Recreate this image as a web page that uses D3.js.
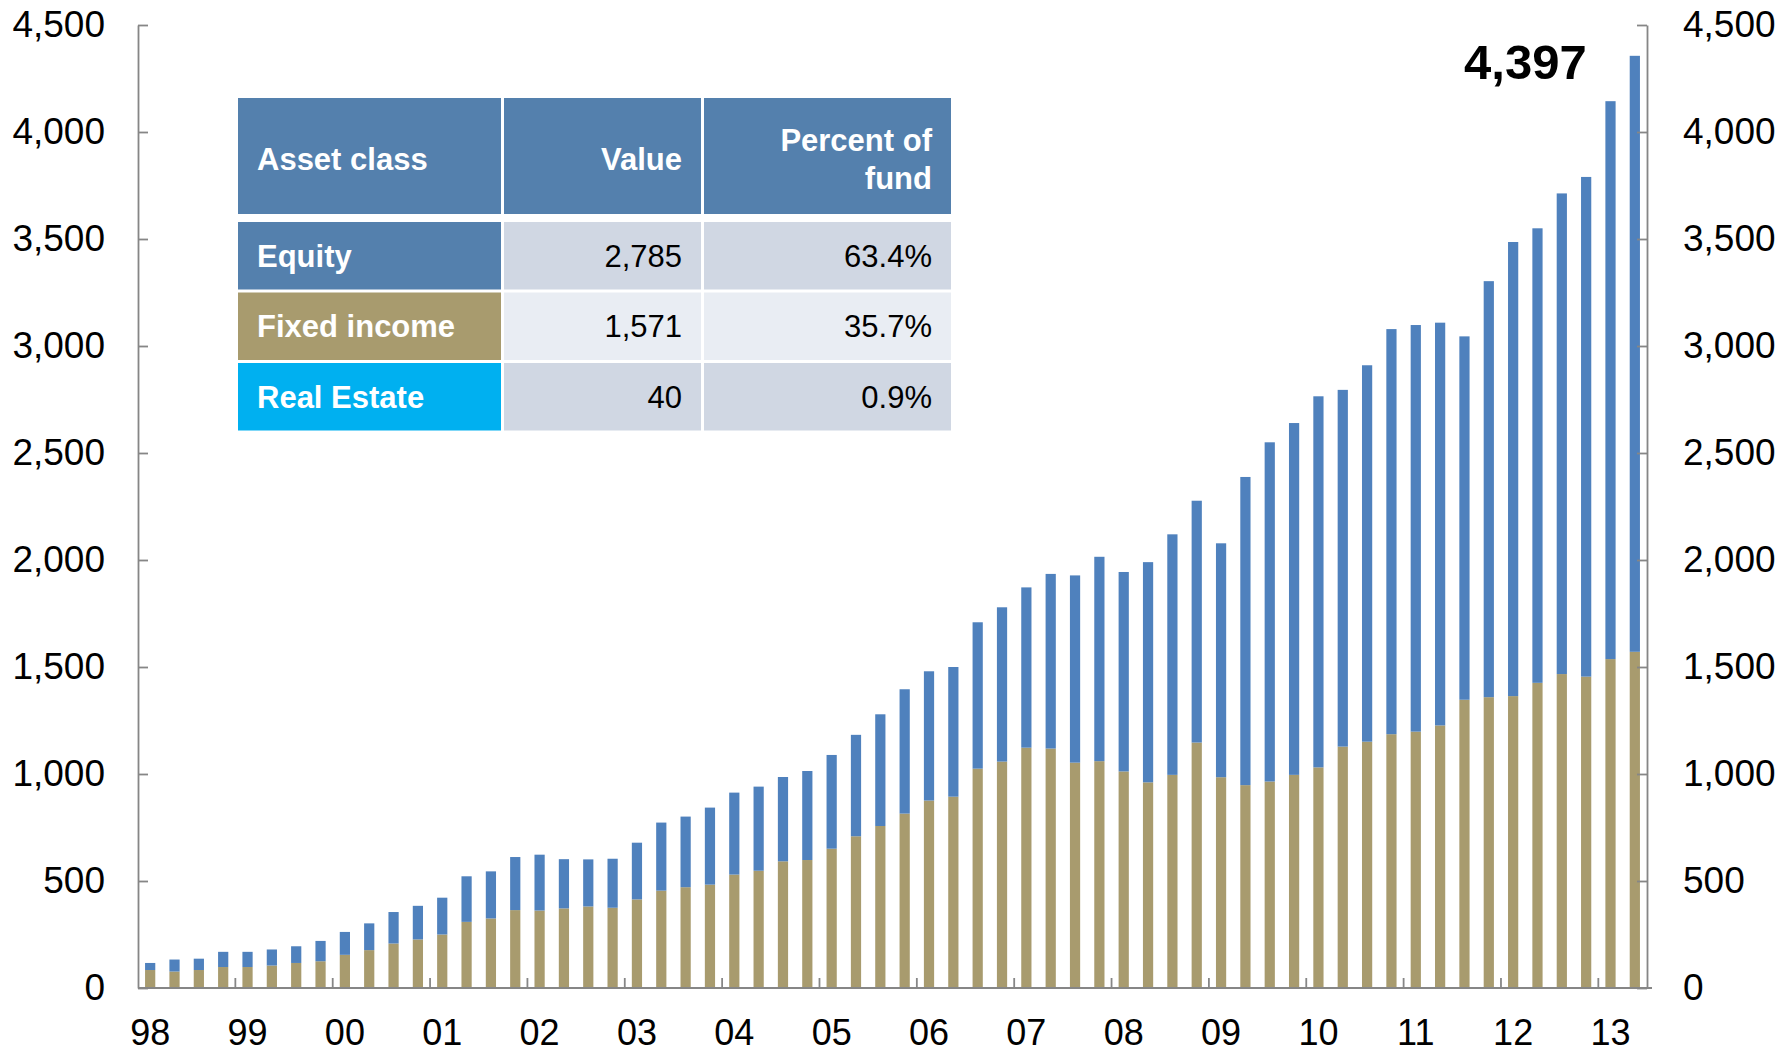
<!DOCTYPE html>
<html>
<head>
<meta charset="utf-8">
<script src="https://cdn.jsdelivr.net/npm/d3@7"></script>
<style>
    body { margin: 0; background: #fff; }
    text { font-family: "Liberation Sans", Arial, sans-serif; }
</style>
</head>
<body>
<svg id="chart"></svg>
<script>
// years shown on the x axis, each has 4 quarterly bars (last year only 2)
const years = ["98", "99", "00", "01", "02", "03", "04", "05", "06", "07", "08", "09", "10", "11", "12", "13"];

// quarterly market value, billions
const fixedIncome = [84, 77, 84, 98, 98, 105, 117, 125, 155, 177, 208, 227, 250, 309, 325, 364,
    362, 372, 381, 375, 414, 455, 471, 483, 530, 548, 592, 598, 651, 709, 757, 815,
    876, 894, 1025, 1058, 1123, 1119, 1053, 1060, 1012, 961, 996, 1147, 985, 948, 965, 996,
    1031, 1128, 1151, 1186, 1198, 1227, 1347, 1359, 1364, 1426, 1467, 1455, 1537, 1571];
const equity = [33, 56, 53, 71, 71, 75, 78, 95, 107, 125, 147, 157, 172, 213, 220, 248,
    261, 230, 220, 229, 265, 318, 330, 360, 383, 393, 394, 416, 438, 474, 522, 581,
    604, 606, 684, 721, 749, 816, 875, 955, 932, 1029, 1124, 1130, 1093, 1440, 1585, 1644,
    1734, 1667, 1759, 1893, 1900, 1882, 1698, 1944, 2122, 2124, 2246, 2335, 2607, 2785];

const yTicks = [0, 500, 1000, 1500, 2000, 2500, 3000, 3500, 4000, 4500];
const totalLabel = "4,397";

// table
const tableHeader = ["Asset class", "Value", "Percent of|fund"];
const assetClasses = ["Equity", "Fixed income", "Real Estate"];
const assetValues = [2785, 1571, 40];
const assetPercents = [63.4, 35.7, 0.9];
const assetColors = ["#5480ad", "#a89b6e", "#00b0f0"];

const width = 1783, height = 1050;
const plotLeft = 138, plotRight = 1647, plotTop = 25, plotBottom = 988;
const axisColor = "#868686";
const colors = { fixed: "#a89b6e", equity: "#4f81bd" };

const svg = d3.select("#chart")
    .attr("width", width)
    .attr("height", height);

// one category per quarter
const quarters = [];
years.forEach(yr => {
    for (let q = 1; q <= 4; q++) quarters.push(yr + "Q" + q);
});
const cats = quarters.slice(0, equity.length);

const x = d3.scaleBand(cats, [plotLeft, plotRight]).paddingInner(0.58).paddingOuter(0.29);
const y = d3.scaleLinear([0, 4500], [plotBottom, plotTop]);

const rows = cats.map((c, i) => ({ cat: c, fixed: fixedIncome[i], equity: equity[i] }));
const stacked = d3.stack().keys(["fixed", "equity"])(rows);

svg.append("g")
    .selectAll("g")
    .data(stacked)
    .join("g")
    .attr("fill", d => colors[d.key])
    .selectAll("rect")
    .data(d => d)
    .join("rect")
    .attr("x", d => x(d.data.cat))
    .attr("width", x.bandwidth())
    .attr("y", d => y(d[1]))
    .attr("height", d => y(d[0]) - y(d[1]));

// y axes on both sides, ticks point inwards
function styleAxis(g) {
    g.selectAll(".domain").attr("stroke", axisColor).attr("stroke-width", 1.8);
    g.selectAll(".tick line").attr("stroke", axisColor).attr("stroke-width", 1.8);
    g.selectAll(".tick text").attr("font-size", 37).attr("fill", "#000");
}

svg.append("g")
    .attr("transform", `translate(${plotLeft},0)`)
    .call(d3.axisLeft(y).tickValues(yTicks).tickFormat(d3.format(",")).tickSize(-10).tickSizeOuter(0).tickPadding(33))
    .call(styleAxis);

svg.append("g")
    .attr("transform", `translate(${plotRight},0)`)
    .call(d3.axisRight(y).tickValues(yTicks).tickFormat(d3.format(",")).tickSize(-10).tickSizeOuter(0).tickPadding(36))
    .attr("text-anchor", "start")
    .call(styleAxis);

// x axis: year label under first quarter, separator ticks between years
const firstQuarters = cats.filter(c => c.endsWith("Q1"));
const xAxis = svg.append("g")
    .attr("transform", `translate(0,${plotBottom})`)
    .call(d3.axisBottom(x).tickValues(firstQuarters).tickFormat(d => d.slice(0, 2)).tickSize(0).tickPadding(31));
xAxis.select(".domain").remove();
xAxis.selectAll(".tick text").attr("font-size", 36).attr("fill", "#000");

svg.append("line")
    .attr("x1", plotLeft).attr("x2", plotRight + 5)
    .attr("y1", plotBottom).attr("y2", plotBottom)
    .attr("stroke", axisColor).attr("stroke-width", 1.8);

const step = x.step();
svg.append("g")
    .selectAll("line")
    .data(firstQuarters.slice(1))
    .join("line")
    .attr("x1", d => x(d) + x.bandwidth() / 2 - step / 2)
    .attr("x2", d => x(d) + x.bandwidth() / 2 - step / 2)
    .attr("y1", plotBottom)
    .attr("y2", plotBottom - 10)
    .attr("stroke", axisColor).attr("stroke-width", 1.8);

// total label next to the last bar
const lastCat = cats[cats.length - 1];
svg.append("text")
    .attr("x", x(lastCat) - 43)
    .attr("y", y(4397) + 32)
    .attr("text-anchor", "end")
    .attr("font-size", 49)
    .attr("font-weight", "bold")
    .text(totalLabel);

// table in the upper left
const colX = [[238, 501], [504, 701], [704, 951]];
const headTop = 98, headBottom = 214;
const rowTop = 222, rowH = 67.5, rowGap = 3;
const cellFill = ["#d0d7e3", "#e9edf3", "#d0d7e3"];
const pad = 19;

const table = svg.append("g");

table.selectAll("rect.head")
    .data(tableHeader)
    .join("rect")
    .attr("class", "head")
    .attr("x", (d, i) => colX[i][0])
    .attr("width", (d, i) => colX[i][1] - colX[i][0])
    .attr("y", headTop)
    .attr("height", headBottom - headTop)
    .attr("fill", "#5480ad");

tableHeader.forEach((h, i) => {
    const lines = h.split("|");
    const t = table.append("text")
        .attr("text-anchor", i === 0 ? "start" : "end")
        .attr("font-size", 31)
        .attr("font-weight", "bold")
        .attr("fill", "#fff");
    const mid = (headTop + headBottom) / 2;
    lines.forEach((ln, k) => {
        t.append("tspan")
            .attr("x", i === 0 ? colX[i][0] + pad : colX[i][1] - pad)
            .attr("y", mid + 14 + (k - (lines.length - 1) / 2) * 38)
            .text(ln);
    });
});

assetClasses.forEach((name, r) => {
    const y0 = rowTop + r * (rowH + rowGap);
    const cells = [name, d3.format(",")(assetValues[r]), assetPercents[r].toFixed(1) + "%"];
    cells.forEach((c, i) => {
        table.append("rect")
            .attr("x", colX[i][0])
            .attr("width", colX[i][1] - colX[i][0])
            .attr("y", y0)
            .attr("height", rowH)
            .attr("fill", i === 0 ? assetColors[r] : cellFill[r]);
        table.append("text")
            .attr("x", i === 0 ? colX[i][0] + pad : colX[i][1] - pad)
            .attr("y", y0 + rowH / 2 + 11)
            .attr("text-anchor", i === 0 ? "start" : "end")
            .attr("font-size", 31)
            .attr("font-weight", i === 0 ? "bold" : "normal")
            .attr("fill", i === 0 ? "#fff" : "#000")
            .text(c);
    });
});
</script>
</body>
</html>
